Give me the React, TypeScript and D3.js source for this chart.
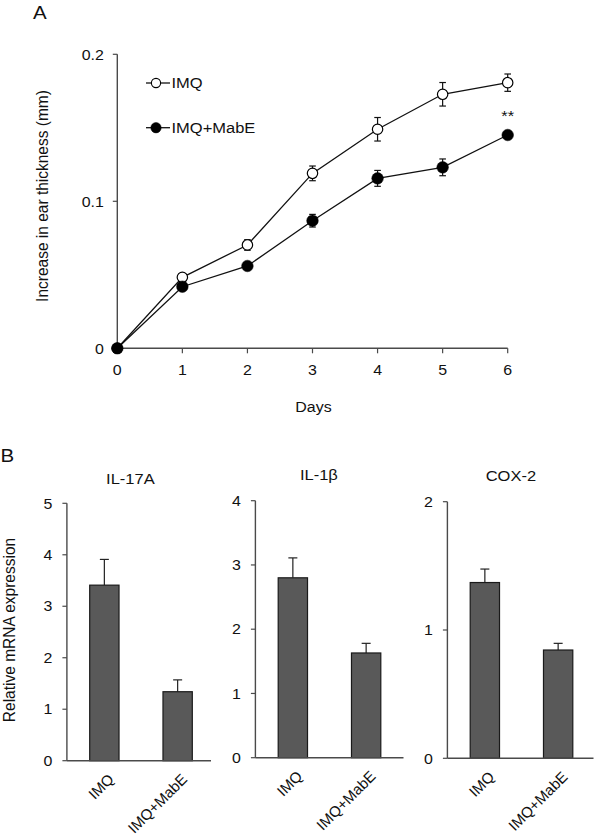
import React from 'react';
import * as d3 from 'd3';

// ---------- Panel A data ----------
const days = [0, 1, 2, 3, 4, 5, 6];
const imqMean = [0, 0.0483, 0.0703, 0.119, 0.149, 0.1728, 0.1807];
const imqErr = [0, 0.002, 0.0036, 0.005, 0.008, 0.008, 0.0059];
const mabeMean = [0, 0.0419, 0.056, 0.0868, 0.1156, 0.1231, 0.1451];
const mabeErr = [0, 0.002, 0.002, 0.0043, 0.0054, 0.0057, 0.002];
const thicknessTicks = [0, 0.1, 0.2];
const thicknessTickLabels = ['0', '0.1', '0.2'];
const seriesNames = ['IMQ', 'IMQ+MabE'];

// ---------- Panel B data ----------
const groups = ['IMQ', 'IMQ+MabE'];
const geneNames = ['IL-17A', 'IL-1β', 'COX-2'];
const il17aMean = [3.41, 1.34];
const il17aErr = [0.5, 0.23];
const il1bMean = [2.8, 1.63];
const il1bErr = [0.31, 0.15];
const cox2Mean = [1.37, 0.844];
const cox2Err = [0.105, 0.052];
const il17aTicks = [0, 1, 2, 3, 4, 5];
const il1bTicks = [0, 1, 2, 3, 4];
const cox2Ticks = [0, 1, 2];

const FONT = 'Liberation Sans, Arial, Helvetica, sans-serif';
const SX = 1.1;
const AXIS = '#4a4a4a';

function T({ x, y, children, anchor = 'start', size = 15, sx = SX, weight = 'normal' }: any) {
  return (
    <text
      transform={`translate(${x},${y}) scale(${sx},1)`}
      textAnchor={anchor}
      fontSize={size}
      fontFamily={FONT}
      fontWeight={weight}
      fill="#111"
    >
      {children}
    </text>
  );
}

function PanelA() {
  const x = d3.scaleLinear().domain([0, 6]).range([117.3, 507.7]);
  const y = d3.scaleLinear().domain([0, 0.2]).range([348.3, 54.3]);
  const line = d3
    .line<number>()
    .x((_, i) => x(days[i]))
    .y((d) => y(d));
  const series = [
    { mean: imqMean, err: imqErr, open: true },
    { mean: mabeMean, err: mabeErr, open: false },
  ];
  return (
    <g>
      <T x={33} y={18.5} size={19} sx={1.08}>A</T>
      {/* axes */}
      <line x1={x(0)} x2={x(0)} y1={y(0.2)} y2={y(0)} stroke={AXIS} strokeWidth={1.4} />
      <line x1={x(0)} x2={x(6)} y1={y(0)} y2={y(0)} stroke={AXIS} strokeWidth={1.4} />
      {thicknessTicks.map((t, i) => (
        <g key={'yt' + i}>
          <line x1={x(0) - 4.5} x2={x(0)} y1={y(t)} y2={y(t)} stroke={AXIS} strokeWidth={1.2} />
          <T x={x(0) - 13.5} y={y(t) + 5.2} anchor="end" size={14.5}>
            {thicknessTickLabels[i]}
          </T>
        </g>
      ))}
      {days.map((d) => (
        <g key={'xt' + d}>
          <line x1={x(d)} x2={x(d)} y1={y(0)} y2={y(0) + 5} stroke={AXIS} strokeWidth={1.2} />
          <T x={x(d)} y={375} anchor="middle" size={14.5}>
            {String(d)}
          </T>
        </g>
      ))}
      <text
        transform={`translate(48,196) rotate(-90) scale(1,1.1)`}
        textAnchor="middle"
        fontSize={15.5}
        fontFamily={FONT}
        fill="#111"
      >
        Increase in ear thickness (mm)
      </text>
      <T x={313.5} y={412.4} anchor="middle" size={14.5}>
        Days
      </T>
      {/* lines */}
      {series.map((s, k) => (
        <path key={'l' + k} d={line(s.mean) || ''} fill="none" stroke="#111" strokeWidth={1.3} />
      ))}
      {/* error bars */}
      {series.map((s, k) =>
        s.mean.map((m, i) =>
          s.err[i] > 0 ? (
            <g key={`e${k}-${i}`} stroke="#111" strokeWidth={1.2}>
              <line x1={x(days[i])} x2={x(days[i])} y1={y(m + s.err[i])} y2={y(m - s.err[i])} />
              <line x1={x(days[i]) - 3.3} x2={x(days[i]) + 3.3} y1={y(m + s.err[i])} y2={y(m + s.err[i])} />
              <line x1={x(days[i]) - 3.3} x2={x(days[i]) + 3.3} y1={y(m - s.err[i])} y2={y(m - s.err[i])} />
            </g>
          ) : null
        )
      )}
      {/* markers */}
      {series.map((s, k) =>
        s.mean.map((m, i) => (
          <circle
            key={`m${k}-${i}`}
            cx={x(days[i])}
            cy={y(m)}
            r={s.open ? 5.2 : 5.8}
            fill={s.open ? '#fff' : '#000'}
            stroke="#000"
            strokeWidth={s.open ? 1.2 : 0.5}
          />
        ))
      )}
      {/* significance */}
      <T x={x(6)} y={121} anchor="middle" size={15}>
        **
      </T>
      {/* legend */}
      {seriesNames.map((n, k) => {
        const ly = k === 0 ? 83 : 127.7;
        return (
          <g key={'lg' + k}>
            <line x1={146} x2={170} y1={ly} y2={ly} stroke="#111" strokeWidth={1.3} />
            <circle
              cx={156}
              cy={ly}
              r={k === 0 ? 4.6 : 5.2}
              fill={k === 0 ? '#fff' : '#000'}
              stroke="#000"
              strokeWidth={k === 0 ? 1.1 : 0.5}
            />
            <T x={171.5} y={ly + 5.4} size={15}>
              {n}
            </T>
          </g>
        );
      })}
    </g>
  );
}

function BarChart({ title, mean, err, ticks, layout }: any) {
  const { axisX, axisEnd, yTop, yBot, titleY } = layout;
  const max = ticks[ticks.length - 1];
  const y = d3.scaleLinear().domain([0, max]).range([yBot, yTop]);
  const xb = d3
    .scaleBand<string>()
    .domain(groups)
    .range([axisX + 22.8, axisX + 22.8 + 102.6])
    .paddingInner(0.6)
    .paddingOuter(0);
  const bw = xb.bandwidth();
  return (
    <g>
      <T x={axisX + 63.5} y={titleY} anchor="middle" size={15}>
        {title}
      </T>
      {groups.map((g, i) => {
        const cx = (xb(g) as number) + bw / 2;
        return (
          <g key={g}>
            <line x1={cx} x2={cx} y1={y(mean[i])} y2={y(mean[i] + err[i])} stroke="#222" strokeWidth={1.2} />
            <line x1={cx - 4.5} x2={cx + 4.5} y1={y(mean[i] + err[i])} y2={y(mean[i] + err[i])} stroke="#222" strokeWidth={1.2} />
            <rect
              x={xb(g)}
              y={y(mean[i])}
              width={bw}
              height={y(0) - y(mean[i])}
              fill="#595959"
              stroke="#1a1a1a"
              strokeWidth={1.2}
            />
            <text
              transform={`translate(${cx + 10.5},${yBot + 19.5}) rotate(-45)`}
              textAnchor="end"
              fontSize={15}
              fontFamily={FONT}
              fill="#111"
            >
              {g}
            </text>
          </g>
        );
      })}
      <line x1={axisX} x2={axisX} y1={yTop} y2={yBot} stroke={AXIS} strokeWidth={1.4} />
      <line x1={axisX} x2={axisEnd} y1={yBot} y2={yBot} stroke={AXIS} strokeWidth={1.4} />
      {ticks.map((t: number) => (
        <g key={t}>
          <line x1={axisX - 4.5} x2={axisX} y1={y(t)} y2={y(t)} stroke={AXIS} strokeWidth={1.2} />
          <T x={axisX - 14.5} y={y(t) + 5.2} anchor="end" size={14.5}>
            {String(t)}
          </T>
        </g>
      ))}
    </g>
  );
}

function PanelB() {
  const layouts = [
    { axisX: 66.9, axisEnd: 211, yTop: 503.3, yBot: 760.7, titleY: 484 },
    { axisX: 255.4, axisEnd: 403.5, yTop: 500.7, yBot: 757.7, titleY: 479.5 },
    { axisX: 447.4, axisEnd: 593.5, yTop: 501.7, yBot: 758.3, titleY: 481 },
  ];
  const means = [il17aMean, il1bMean, cox2Mean];
  const errs = [il17aErr, il1bErr, cox2Err];
  const ticks = [il17aTicks, il1bTicks, cox2Ticks];
  return (
    <g>
      <T x={0.5} y={462} size={19} sx={1.08}>B</T>
      <text
        transform={`translate(15,630) rotate(-90) scale(1,1.08)`}
        textAnchor="middle"
        fontSize={15.5}
        fontFamily={FONT}
        fill="#111"
      >
        Relative mRNA expression
      </text>
      {geneNames.map((g, i) => (
        <BarChart key={g} title={g} mean={means[i]} err={errs[i]} ticks={ticks[i]} layout={layouts[i]} />
      ))}
    </g>
  );
}

export default function App() {
  return (
    <svg
      width={596}
      height={838}
      viewBox="0 0 596 838"
      style={{ position: 'absolute', left: 0, top: 0, background: '#fff' }}
    >
      <rect x={0} y={0} width={596} height={838} fill="#fff" />
      <PanelA />
      <PanelB />
    </svg>
  );
}
